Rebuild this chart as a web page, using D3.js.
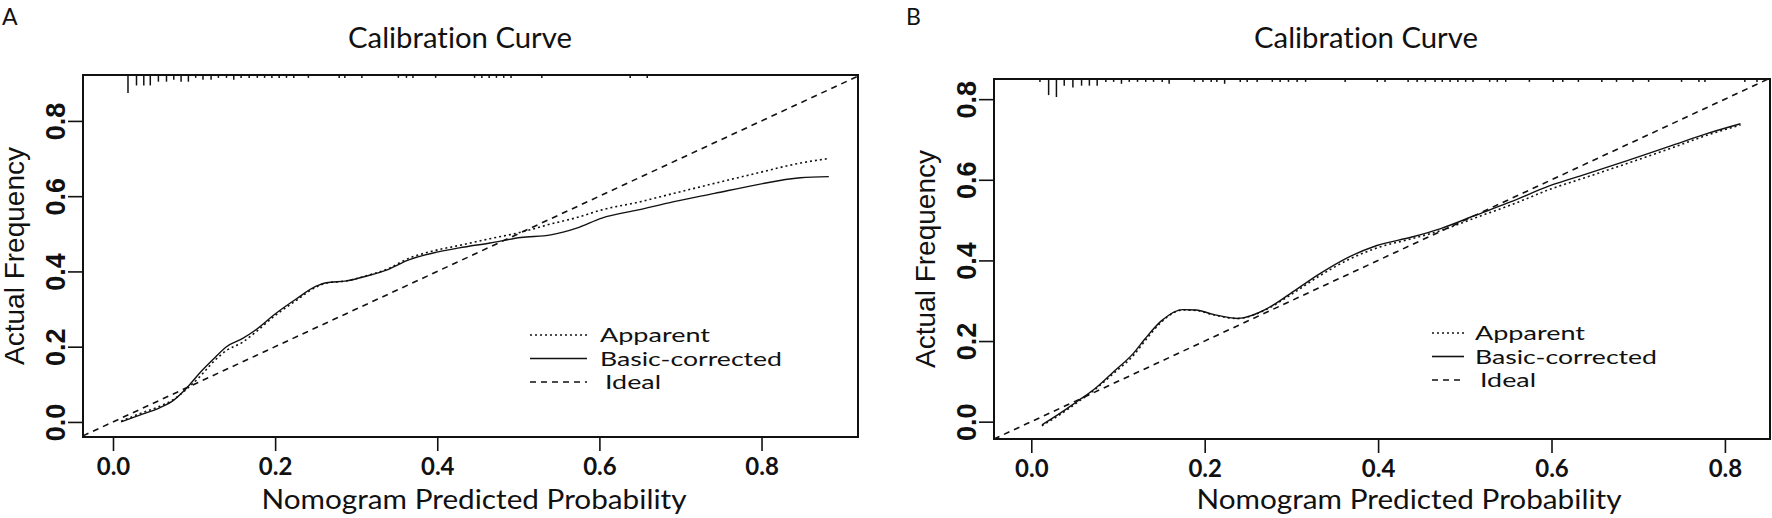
<!DOCTYPE html>
<html>
<head>
<meta charset="utf-8">
<script src="https://cdnjs.cloudflare.com/ajax/libs/d3/7.8.5/d3.min.js"></script>
<style>
  body { margin: 0; background: #fff; }
  .calib text { fill: #111; font-variant-ligatures: none; }
</style>
</head>
<body>
<div id="chart"></div>
<script>
//============ Data ==========================================
var tickValues = [0, 0.2, 0.4, 0.6, 0.8];
var legendLabels = ["Apparent", "Basic-corrected", "Ideal"];
var chartTitle = "Calibration Curve";
var xTitle = "Nomogram Predicted Probability";
var yTitle = "Actual Frequency";

// panel A
var predA      = [0.010, 0.033, 0.058, 0.075, 0.090, 0.107, 0.123, 0.140, 0.160, 0.175, 0.200, 0.2255, 0.250, 0.263, 0.2885, 0.3135, 0.339, 0.364, 0.396, 0.427, 0.465, 0.503, 0.540, 0.572, 0.603, 0.648, 0.692, 0.742, 0.792, 0.848, 0.883];
var apparentA  = [0.002, 0.022, 0.042, 0.060, 0.086, 0.120, 0.158, 0.190, 0.212, 0.237, 0.283, 0.322, 0.358, 0.369, 0.375, 0.389, 0.407, 0.434, 0.455, 0.469, 0.487, 0.504, 0.526, 0.543, 0.5636, 0.584, 0.6075, 0.634, 0.660, 0.688, 0.700];
var correctedA = [0.000, 0.018, 0.038, 0.058, 0.088, 0.130, 0.165, 0.200, 0.222, 0.243, 0.287, 0.326, 0.360, 0.370, 0.375, 0.388, 0.405, 0.430, 0.4495, 0.4625, 0.4757, 0.490, 0.497, 0.515, 0.5417, 0.5636, 0.5856, 0.6075, 0.6295, 0.649, 0.652];
var rugA      = [0.0185, 0.029, 0.038, 0.046, 0.056, 0.066, 0.075, 0.084, 0.093, 0.102, 0.111, 0.121, 0.130, 0.140, 0.149, 0.158, 0.168, 0.178, 0.187, 0.196, 0.205, 0.214, 0.223, 0.241, 0.279, 0.286, 0.307, 0.352, 0.362, 0.370, 0.398, 0.446, 0.455, 0.464, 0.473, 0.482, 0.491, 0.529, 0.638, 0.659];
var rugCountA = [9, 5, 5, 5, 3, 3, 2, 3, 3, 1, 2, 2, 1, 1, 2, 1, 1, 1, 1, 1, 1, 1, 1, 1, 1, 1, 1, 1, 1, 1, 1, 1, 1, 1, 1, 1, 1, 1, 1, 1];

// panel B
var predB      = [0.0123, 0.0334, 0.0527, 0.0718, 0.095, 0.118, 0.131, 0.150, 0.1744, 0.190, 0.210, 0.238, 0.2715, 0.298, 0.332, 0.365, 0.3986, 0.439, 0.4723, 0.5125, 0.5526, 0.599, 0.6397, 0.6865, 0.740, 0.780, 0.818];
var apparentB  = [-0.010, 0.018, 0.047, 0.077, 0.120, 0.165, 0.200, 0.247, 0.277, 0.276, 0.265, 0.256, 0.279, 0.313, 0.361, 0.401, 0.431, 0.454, 0.474, 0.506, 0.537, 0.577, 0.606, 0.640, 0.680, 0.711, 0.736];
var correctedB = [-0.008, 0.021, 0.050, 0.079, 0.124, 0.170, 0.205, 0.250, 0.278, 0.277, 0.266, 0.256, 0.280, 0.3165, 0.366, 0.407, 0.437, 0.458, 0.479, 0.512, 0.545, 0.586, 0.614, 0.647, 0.686, 0.715, 0.739];
var rugB      = [0.010, 0.020, 0.029, 0.038, 0.048, 0.058, 0.067, 0.076, 0.086, 0.095, 0.104, 0.113, 0.1225, 0.132, 0.141, 0.151, 0.159, 0.188, 0.198, 0.2075, 0.214, 0.223, 0.241, 0.249, 0.2605, 0.278, 0.287, 0.2966, 0.3066, 0.3164, 0.362, 0.399, 0.408, 0.4346, 0.445, 0.4545, 0.4657, 0.474, 0.483, 0.492, 0.501, 0.5095, 0.5287, 0.5375, 0.5472, 0.5745, 0.602, 0.613, 0.631, 0.658, 0.675, 0.694, 0.712, 0.750, 0.770, 0.777, 0.823, 0.837];
var rugCountB = [1, 8, 9, 3, 4, 3, 3, 3, 1, 1, 2, 1, 1, 1, 1, 1, 2, 1, 1, 1, 1, 2, 1, 1, 1, 1, 1, 1, 1, 1, 1, 1, 1, 1, 1, 1, 1, 1, 1, 1, 1, 1, 1, 1, 1, 1, 1, 1, 1, 1, 1, 1, 1, 1, 1, 1, 1, 1];

//============ Set up chart =====================
var svgWidth = 1772;
var svgHeight = 518;
var calibriLike = "Lato, 'Open Sans', sans-serif";
var arialLike = "'Liberation Sans', Arial, sans-serif";

var svg = d3.select("#chart")
  .append("svg")
  .attr("class", "calib")
  .attr("width", svgWidth)
  .attr("height", svgHeight);

var panels = [
  { letter: "A", pred: predA, apparent: apparentA, corrected: correctedA, rug: rugA, rugCount: rugCountA,
    left: 83, top: 75, right: 858, bottom: 437, xDomain: [-0.037, 0.919], yDomain: [-0.04, 0.922],
    letterX: 2, titleX: 460, xTitleX: 474, legendX: 530, legendLen: 57, legendTextX: 600, legendY: 335 },
  { letter: "B", pred: predB, apparent: apparentB, corrected: correctedB, rug: rugB, rugCount: rugCountB,
    left: 994, top: 79, right: 1770, bottom: 439, xDomain: [-0.043, 0.852], yDomain: [-0.043, 0.85],
    letterX: 906, titleX: 1366, xTitleX: 1409, legendX: 1432, legendLen: 32, legendTextX: 1475, legendY: 333 }
];

// line styles: Apparent dotted, Basic-corrected solid, Ideal dashed
var dashes = ["2,3", null, "6,5"];
// legend text widths and indents as printed (Ideal has a leading blank)
var legendWidths = [110, 182, 56];
var legendIndent = [0, 0, 5];
var legendStep = 23.5;

// tick length in px from count of tied predictions
var rugScale = d3.scaleLinear().domain([0, 9]).range([1, 18]);

panels.forEach(function(p, i) {
  var g = svg.append("g");

  var x = d3.scaleLinear().domain(p.xDomain).range([p.left, p.right]);
  var y = d3.scaleLinear().domain(p.yDomain).range([p.bottom, p.top]);

  var clipId = "clip" + p.letter;
  g.append("clipPath").attr("id", clipId)
    .append("rect")
    .attr("x", p.left).attr("y", p.top)
    .attr("width", p.right - p.left).attr("height", p.bottom - p.top);

  // panel letter and title
  g.append("text")
    .attr("x", p.letterX).attr("y", 25)
    .style("font-family", calibriLike).style("font-size", "23px")
    .text(p.letter);

  g.append("text")
    .attr("x", p.titleX).attr("y", 48)
    .attr("text-anchor", "middle")
    .attr("textLength", 224).attr("lengthAdjust", "spacingAndGlyphs")
    .style("font-family", calibriLike).style("font-size", "28px")
    .text(chartTitle);

  // x axis
  var bottomAxis = d3.axisBottom(x).tickValues(tickValues).tickSize(14).tickFormat(d3.format(".1f"));
  var xAxis = g.append("g")
    .attr("transform", `translate(0, ${p.bottom})`)
    .call(bottomAxis);
  xAxis.select(".domain").remove();
  xAxis.selectAll("line").attr("stroke", "#111").attr("stroke-width", 1.6);
  xAxis.selectAll("text")
    .attr("y", 38).attr("dy", null)
    .style("font-family", calibriLike).style("font-size", "24px").style("font-weight", "bold");

  // y axis
  var leftAxis = d3.axisLeft(y).tickValues(tickValues).tickSize(15).tickFormat(d3.format(".1f"));
  var yAxis = g.append("g")
    .attr("transform", `translate(${p.left}, 0)`)
    .call(leftAxis);
  yAxis.select(".domain").remove();
  yAxis.selectAll("line").attr("stroke", "#111").attr("stroke-width", 1.6);
  yAxis.selectAll("text")
    .attr("x", null).attr("dy", null)
    .attr("text-anchor", "middle")
    .attr("transform", "translate(-18, 0) rotate(-90)")
    .style("font-family", arialLike).style("font-size", "27px").style("font-weight", "bold");

  // axis titles
  g.append("text")
    .attr("x", p.xTitleX).attr("y", 509)
    .attr("text-anchor", "middle")
    .attr("textLength", 425).attr("lengthAdjust", "spacingAndGlyphs")
    .style("font-family", calibriLike).style("font-size", "26px")
    .text(xTitle);

  g.append("text")
    .attr("transform", `translate(${p.left - 59}, ${(p.top + p.bottom) / 2}) rotate(-90)`)
    .attr("text-anchor", "middle")
    .style("font-family", arialLike).style("font-size", "28px")
    .text(yTitle);

  // plot box
  g.append("rect")
    .attr("x", p.left).attr("y", p.top)
    .attr("width", p.right - p.left).attr("height", p.bottom - p.top)
    .attr("fill", "none").attr("stroke", "#111").attr("stroke-width", 2);

  // rug of predicted probabilities along the top
  g.append("g").selectAll("line")
    .data(p.rug)
    .enter()
    .append("line")
    .attr("x1", d => x(d)).attr("x2", d => x(d))
    .attr("y1", p.top)
    .attr("y2", (d, j) => p.top + rugScale(p.rugCount[j]))
    .attr("stroke", "#111").attr("stroke-width", 1.5);

  // curves
  var line = d3.line()
    .x(d => x(d[0]))
    .y(d => y(d[1]))
    .curve(d3.curveMonotoneX);

  var plotArea = g.append("g").attr("clip-path", `url(#${clipId})`);

  var idealPts = x.domain().map(v => [v, v]);
  var series = [
    d3.zip(p.pred, p.apparent),
    d3.zip(p.pred, p.corrected),
    idealPts
  ];

  plotArea.selectAll("path.curve")
    .data(series)
    .enter()
    .append("path")
    .attr("class", "curve")
    .attr("d", d => line(d))
    .attr("fill", "none")
    .attr("stroke", "#111")
    .attr("stroke-width", (d, j) => j === 1 ? 1.4 : 1.6)
    .attr("stroke-dasharray", (d, j) => dashes[j]);

  // legend
  var legend = g.append("g");
  legendLabels.forEach(function(label, j) {
    var ly = p.legendY + j * legendStep;
    legend.append("line")
      .attr("x1", p.legendX).attr("x2", p.legendX + p.legendLen)
      .attr("y1", ly).attr("y2", ly)
      .attr("stroke", "#111").attr("stroke-width", 1.6)
      .attr("stroke-dasharray", dashes[j]);
    legend.append("text")
      .attr("x", p.legendTextX + legendIndent[j]).attr("y", ly)
      .attr("dy", "0.36em")
      .attr("textLength", legendWidths[j]).attr("lengthAdjust", "spacingAndGlyphs")
      .style("font-family", calibriLike).style("font-size", "19.5px")
      .text(label);
  });
});
</script>
</body>
</html>
